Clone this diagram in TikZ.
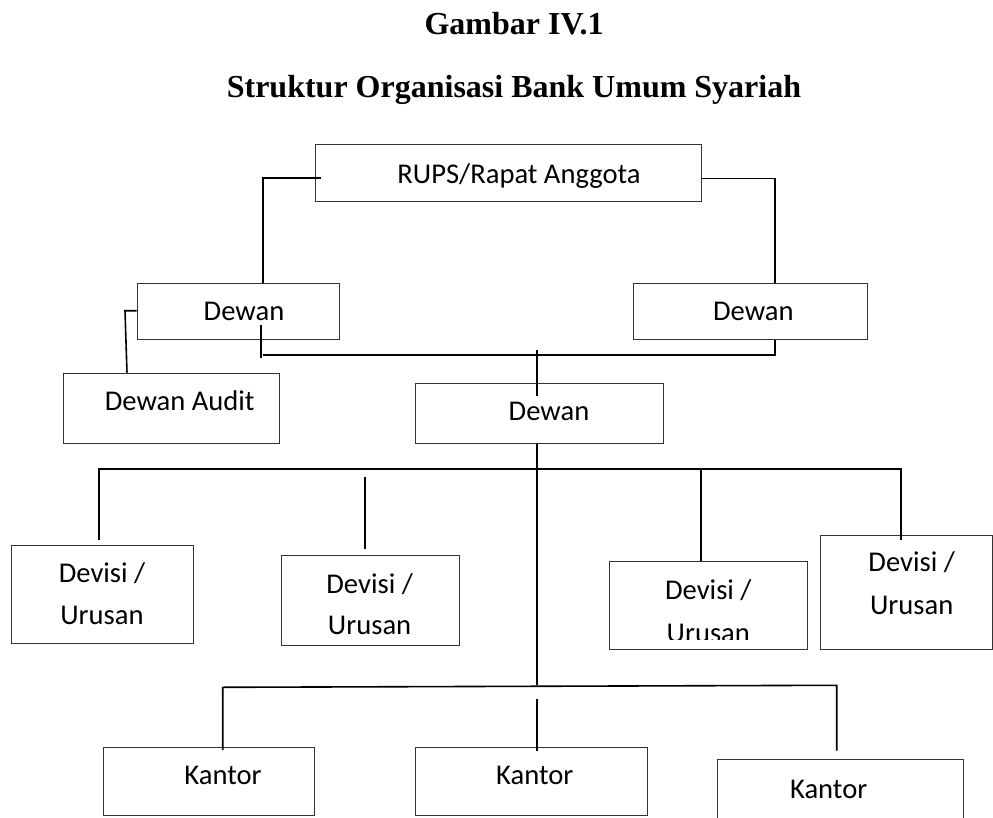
\documentclass[tikz,border=0pt]{standalone}
\usepackage{fontspec}
\setmainfont{Carlito}
\newfontfamily\titlefont{Liberation Serif}
\usetikzlibrary{calc}
\begin{document}
\begin{tikzpicture}[x=1pt,y=-1pt,
  box/.style={draw=black!80, line width=0.9pt, inner sep=0pt, anchor=north west},
  conn/.style={draw=black, line width=1.6pt},
  txt/.style={inner sep=0pt, anchor=base, font=\fontsize{28.6}{34}\selectfont},
  ttl/.style={inner sep=0pt, anchor=base, font=\titlefont\bfseries\fontsize{32}{38}\selectfont}]
\useasboundingbox (0,0) rectangle (993,818);
\clip (0,0) rectangle (993,818);

% titles
\node[ttl] (t1) at (514,35) {Gambar IV.1};
\node[ttl] (t2) at (514,98) {Struktur Organisasi Bank Umum Syariah};

% boxes
\node[box, minimum width=386pt, minimum height=56.7pt] (rups) at (315,144) {};
\node[box, minimum width=202.6pt, minimum height=56pt] (dewL) at (136.7,282.7) {};
\node[box, minimum width=234.6pt, minimum height=56pt] (dewR) at (632.7,282.7) {};
\node[box, minimum width=216.6pt, minimum height=70pt] (audit) at (62.7,372.7) {};
\node[box, minimum width=248.3pt, minimum height=60pt] (dewC) at (415,382.7) {};
\node[box, minimum width=182.3pt, minimum height=98pt] (dev1) at (11,544.7) {};
\node[box, minimum width=178.3pt, minimum height=90pt] (dev2) at (281,554.7) {};
\node[box, minimum width=198.3pt, minimum height=88.3pt] (dev3) at (609,561) {};
\node[box, minimum width=171.7pt, minimum height=114.6pt] (dev4) at (820.3,534.7) {};
\node[box, minimum width=211.3pt, minimum height=68.3pt] (kan1) at (102.7,746.7) {};
\node[box, minimum width=232pt, minimum height=68.3pt] (kan2) at (415,746.7) {};
\node[box, minimum width=246.6pt, minimum height=70pt] (kan3) at (716.7,759.3) {};

% texts
\node[txt] (rupsT) at (519,183.3) {RUPS/Rapat Anggota};
\node[txt] (dewLT) at (244,320.7) {Dewan};
\node[txt] (dewRT) at (753.3,320.7) {Dewan};
\node[txt] (auditT) at (179.7,410) {Dewan Audit};
\node[txt] (dewCT) at (549,420.7) {Dewan};
\node[txt] (dev1a) at (102,582.7) {Devisi /};
\node[txt] (dev1b) at (102,624) {Urusan};
\node[txt] (dev2a) at (369.6,593.3) {Devisi /};
\node[txt] (dev2b) at (369.6,634) {Urusan};
\node[txt] (dev3a) at (708.3,599) {Devisi /};
\begin{scope}
  \clip (609,560) rectangle (808,639.3);
  \node[txt] (dev3b) at (708.3,642) {Urusan};
\end{scope}
\node[txt] (dev4a) at (911.7,571.7) {Devisi /};
\node[txt] (dev4b) at (911.7,614.3) {Urusan};
\node[txt] (kan1T) at (223,784) {Kantor};
\node[txt] (kan2T) at (534.8,784) {Kantor};
\node[txt] (kan3T) at (828.7,798.3) {Kantor};

% junction coordinates
\coordinate (cLtop) at (263,178.3);
\coordinate (cRtop) at (775,178.7);
\coordinate (cA) at (125,310.7);
\coordinate (cAx) at (127,0);
\coordinate (mL) at (261,325);
\coordinate (mLb) at (261,358.3);
\coordinate (hL) at (263,355);
\coordinate (hR) at (775,355);
\coordinate (hCtop) at (536.7,350);
\coordinate (bus1L) at (99,469);
\coordinate (bus1R) at (900.7,469);
\coordinate (bus2L) at (222.7,687.3);
\coordinate (bus2R) at (836.7,685.3);
\coordinate (x2) at (365,477.3);
\coordinate (x3) at (701,469);
\coordinate (xk2) at (536.7,699);

% connectors
\draw[conn] ($(rups.west |- cLtop)+(6,0)$) -- (cLtop) -- (cLtop |- dewL.north);
\draw[conn] (rups.east |- cRtop) -- (cRtop) -- (cRtop |- dewR.north);
\draw[conn] (dewL.west |- cA) -- (cA) -- (audit.north -| cAx);
\draw[conn] (mL) -- (mLb);
\draw[conn] (hL) -- (hR) -- (hR |- dewR.south);
\draw[conn] (hCtop) -- ($(dewC.north -| hCtop)+(0,13)$);
\draw[conn] (dewC.south -| hCtop) -- (hCtop |- bus2R);
\draw[conn] ($(dev1.north -| bus1L)+(0,-4.7)$) -- (bus1L) -- (bus1R) -- ($(dev4.north -| bus1R)+(0,5.3)$);
\draw[conn] (x2) -- ($(dev2.north -| x2)+(0,-6)$);
\draw[conn] (x3) -- (dev3.north -| x3);
\draw[conn] ($(kan1.north -| bus2L)+(0,3.3)$) -- (bus2L) -- (bus2R) -- ($(kan3.north -| bus2R)+(0,-8.6)$);
\draw[conn] (xk2) -- ($(kan2.north -| xk2)+(0,4)$);
\end{tikzpicture}
\end{document}
